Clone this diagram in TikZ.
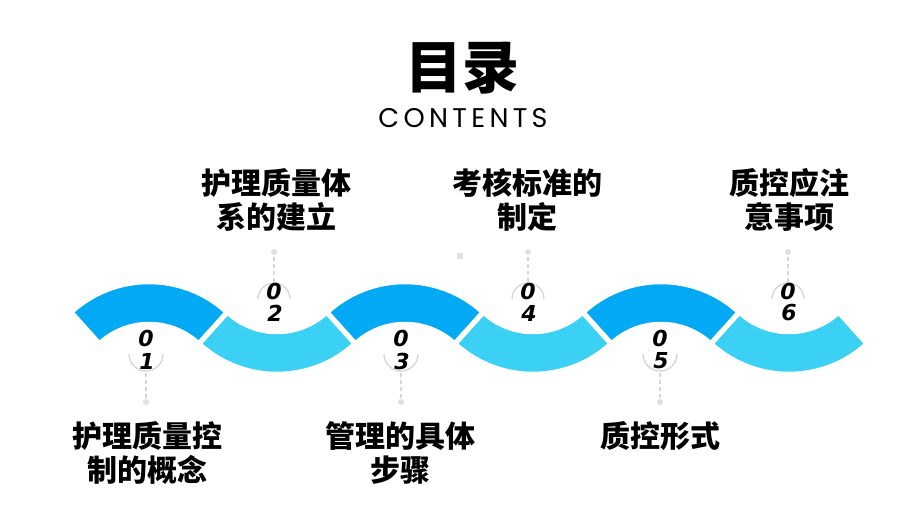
\documentclass[tikz,border=0pt]{standalone}
\usepackage{fontspec}
\newfontfamily\cjk{Noto Sans CJK SC}
\newfontfamily\digitfont{DejaVu Sans}
\newfontfamily\contfont[LetterSpace=16]{Poppins}
\definecolor{darkb}{RGB}{3,169,244}
\definecolor{lightb}{RGB}{59,209,245}
\definecolor{guide}{RGB}{214,214,214}
\definecolor{dotgray}{RGB}{224,224,224}
\tikzset{
  band/.style={draw=white,line width=2.5pt},
  digit/.style={font=\digitfont\bfseries\itshape\fontsize{22}{22}\selectfont,inner sep=0pt},
  label/.style={font=\cjk\bfseries\fontsize{30}{34}\selectfont,align=center,inner sep=0pt},
  guideline/.style={guide,dashed,line width=1.3pt,dash pattern=on 4pt off 3pt},
  guidearc/.style={guide,line width=1.3pt},
  enddot/.style={circle,fill=dotgray,inner sep=0pt,minimum size=6pt}
}
\begin{document}
\begin{tikzpicture}[x=1pt,y=-1pt]
\useasboundingbox[fill=white] (0,0) rectangle (920,518);
% title
\node[font=\cjk\bfseries\fontsize{57}{60}\selectfont,inner sep=0pt] (title) at (462,68) {目录};
\node[font=\contfont\fontsize{27}{27}\selectfont,inner sep=0pt] (contents) at (463,118) {CONTENTS};
\node[fill=dotgray,minimum size=6pt,inner sep=0pt] (sq) at (460,256) {};
% wave bands
\foreach \cx in {149,405,661}{
  \path[band,fill=darkb] (\cx,397) ++(228:114) arc[start angle=228,end angle=312,radius=114]
    -- ++(132:40) arc[start angle=312,end angle=228,radius=74] -- cycle;
}
\foreach \cx in {277,533,789}{
  \path[band,fill=lightb] (\cx,259) ++(132:114) arc[start angle=132,end angle=48,radius=114]
    -- ++(228:40) arc[start angle=48,end angle=132,radius=74] -- cycle;
}
% bottom labels
\foreach \x/\d/\n in {146/1/a,401/3/b,660/5/c}{
  \draw[guidearc] (\x,354) ++(0:17) arc[start angle=0,end angle=180,radius=17];
  \node[digit] (z\n) at (\x,338) {0};
  \node[digit] (d\n) at (\x+1,361) {\d};
  \coordinate (s\n) at (\x,373);
  \node[enddot] (e\n) at (\x,402) {};
  \draw[guideline] (s\n) -- (e\n);
}
% top labels
\foreach \x/\d/\n in {274/2/a,528/4/b,788/6/c}{
  \draw[guidearc] (\x,299) ++(180:16) arc[start angle=180,end angle=360,radius=16];
  \node[digit] (tz\n) at (\x,291) {0};
  \node[digit] (td\n) at (\x+1,313) {\d};
  \coordinate (ts\n) at (\x,282);
  \node[enddot] (te\n) at (\x,252) {};
  \draw[guideline] (ts\n) -- (te\n);
}
% texts
\node[label] (l1) at (147,453) {护理质量控\\制的概念};
\node[label] (l2) at (276,200) {护理质量体\\系的建立};
\node[label] (l3) at (400,453) {管理的具体\\步骤};
\node[label] (l4) at (527,200) {考核标准的\\制定};
\node[label] (l5) at (660,436) {质控形式};
\node[label] (l6) at (789,200) {质控应注\\意事项};
\end{tikzpicture}
\end{document}
